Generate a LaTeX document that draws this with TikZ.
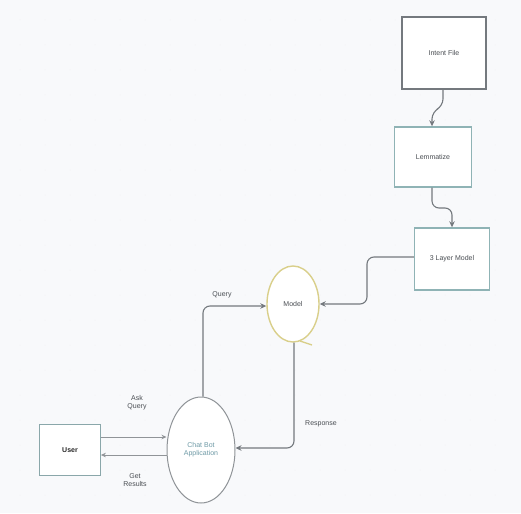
\documentclass[tikz,border=0pt]{standalone}
\usepackage{fontspec}
\setmainfont{Liberation Sans}
\usetikzlibrary{arrows.meta,shapes.geometric}
\definecolor{bg}{HTML}{F8F9FB}
\definecolor{ln}{HTML}{74797E}
\definecolor{tealb}{HTML}{8FB3B5}
\definecolor{yel}{HTML}{D9CF8A}
\definecolor{txt}{HTML}{4A4E53}
\definecolor{appt}{HTML}{6E9AA6}
\begin{document}
\begin{tikzpicture}[x=1pt,y=-1pt,
  lbl/.style={font=\fontsize{7}{8}\selectfont,text=txt,align=center},
  boxd/.style={draw=ln,line width=1.2pt,fill=white,font=\fontsize{7}{8}\selectfont,text=txt},
  boxt/.style={draw=tealb,line width=1.4pt,fill=white,font=\fontsize{7}{8}\selectfont,text=txt},
  conn/.style={draw=ln,line width=1.1pt,rounded corners=7pt,-{Stealth[length=6pt,width=5.5pt]}},
  thin/.style={draw=ln!80,line width=0.8pt,-{Stealth[length=5pt,width=4.5pt]}}]
\fill[bg] (0,0) rectangle (521,513);
\useasboundingbox (0,0) rectangle (521,513);
\foreach \x in {20,45,...,510} \foreach \y in {20,45,...,505} \fill[black!6] (\x,\y) circle (0.5pt);
% nodes
\node[boxd,minimum width=84pt,minimum height=72pt] (intent) at (444,53) {Intent File};
\node[boxt,minimum width=77pt,minimum height=60pt] (lemma) at (433,157) {Lemmatize};
\node[boxt,minimum width=75pt,minimum height=62pt] (layer) at (452,259) {3 Layer Model};
\node[ellipse,draw=yel,line width=1.4pt,fill=white,minimum width=52pt,minimum height=76pt,inner sep=0pt,font=\fontsize{7}{8}\selectfont,text=txt] (model) at (293,304) {Model};
\draw[yel,line width=1.4pt] (300,341) -- (312,345);
\node[ellipse,draw=ln!80,line width=1pt,fill=white,minimum width=68pt,minimum height=106pt,inner sep=0pt,font=\fontsize{7}{8}\selectfont,text=appt,align=center] (app) at (201,450) {Chat Bot\\Application};
\node[draw=tealb!80!ln,line width=0.8pt,fill=white,minimum width=61pt,minimum height=51pt,font=\bfseries\fontsize{7}{8}\selectfont,text=black!85] (user) at (70,450) {User};
% connectors
\coordinate (i1) at (443,106);
\coordinate (i2) at (432,112);
\draw[conn] (intent.south -| i1) -- (i1) -- (i2) -- (lemma.north -| i2);
\coordinate (l1) at (432,208);
\coordinate (l2) at (452,208);
\draw[conn] (lemma.south -| l1) -- (l1) -- (l2) -- (layer.north);
\coordinate (m1) at (367,257);
\coordinate (m2) at (367,304);
\draw[conn] (layer.west |- m1) -- (m1) -- (m2) -- (model.east);
\coordinate (q1) at (203,306);
\draw[conn] (app.north -| q1) -- (q1) -- (model.west |- q1);
\coordinate (r1) at (294,448);
\draw[conn] (model.south -| r1) -- (r1) -- (app.east |- r1);
\draw[thin] (user.east |- 0,437) -- (app.west |- 0,437);
\draw[thin] (app.west |- 0,455) -- (user.east |- 0,455);
% labels
\node[lbl] (lq) at (222,295) {Query};
\node[lbl] (lr) at (321,424) {Response};
\node[lbl] (la) at (137,403) {Ask\\Query};
\node[lbl] (lg) at (135,480) {Get\\Results};
\end{tikzpicture}
\end{document}
